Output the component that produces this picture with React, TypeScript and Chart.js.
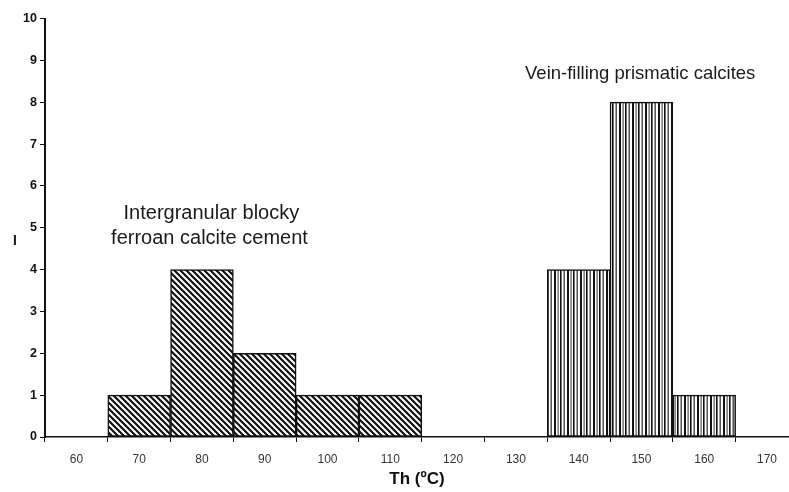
import React, { useEffect, useRef } from "react";
import { Chart, registerables } from "chart.js";

Chart.register(...registerables);

// Histogram bins (bin centres, °C) and counts
const tickLabels = [60, 70, 80, 90, 100, 110, 120, 130, 140, 150, 160, 170];
const cementBins = [70, 80, 90, 100, 110];
const cementCounts = [1, 4, 2, 1, 1];
const veinBins = [140, 150, 160];
const veinCounts = [4, 8, 1];
const yTicks = [0, 1, 2, 3, 4, 5, 6, 7, 8, 9, 10];

const notes = [
  { text: "Intergranular blocky", x: 81.5, y: 5.35, size: 20, bold: false },
  { text: "ferroan calcite cement", x: 81.2, y: 4.75, size: 20, bold: false },
  { text: "Vein-filling prismatic calcites", x: 149.8, y: 8.67, size: 18.5, bold: false },
  { text: "I", x: 50.2, y: 4.68, size: 14, bold: true },
];

function diagPattern(): CanvasPattern | string {
  const c = document.createElement("canvas");
  c.width = 6;
  c.height = 6;
  const g = c.getContext("2d");
  if (!g) return "#666";
  g.fillStyle = "#fff";
  g.fillRect(0, 0, 6, 6);
  g.strokeStyle = "#111";
  g.lineWidth = 2.2;
  g.beginPath();
  g.moveTo(-3, -3);
  g.lineTo(9, 9);
  g.moveTo(-3, 3);
  g.lineTo(3, 9);
  g.moveTo(3, -3);
  g.lineTo(9, 3);
  g.stroke();
  return g.createPattern(c, "repeat") || "#666";
}

function vertPattern(): CanvasPattern | string {
  const c = document.createElement("canvas");
  c.width = 13;
  c.height = 4;
  const g = c.getContext("2d");
  if (!g) return "#888";
  g.fillStyle = "#fff";
  g.fillRect(0, 0, 13, 4);
  g.fillStyle = "#111";
  g.fillRect(0, 0, 2, 4);
  g.fillStyle = "#555";
  g.fillRect(3.5, 0, 1.2, 4);
  g.fillStyle = "#111";
  g.fillRect(6, 0, 1.6, 4);
  g.fillStyle = "#444";
  g.fillRect(9.5, 0, 1.4, 4);
  return g.createPattern(c, "repeat") || "#888";
}

const notesPlugin = {
  id: "notes",
  afterDraw(chart: any) {
    const { ctx, scales } = chart;
    ctx.save();
    ctx.fillStyle = "#1a1a1a";
    ctx.textAlign = "center";
    ctx.textBaseline = "middle";
    for (const n of notes) {
      ctx.font = `${n.bold ? "bold " : ""}${n.size}px "Liberation Sans", Arial, sans-serif`;
      ctx.fillText(n.text, scales.x.getPixelForValue(n.x), scales.y.getPixelForValue(n.y));
    }
    ctx.restore();
  },
};

export default function App() {
  const ref = useRef<HTMLCanvasElement | null>(null);

  useEffect(() => {
    if (!ref.current) return;
    const chart = new Chart(ref.current, {
      type: "bar",
      data: {
        datasets: [
          {
            label: "Intergranular blocky ferroan calcite cement",
            data: cementBins.map((b, i) => ({ x: b, y: cementCounts[i] })),
            backgroundColor: diagPattern() as any,
            borderColor: "#111",
            borderWidth: 1.5,
            borderSkipped: false,
          },
          {
            label: "Vein-filling prismatic calcites",
            data: veinBins.map((b, i) => ({ x: b, y: veinCounts[i] })),
            backgroundColor: vertPattern() as any,
            borderColor: "#111",
            borderWidth: 1.5,
            borderSkipped: false,
          },
        ],
      },
      options: {
        animation: false,
        responsive: true,
        maintainAspectRatio: false,
        grouped: false,
        categoryPercentage: 1,
        barPercentage: 1,
        layout: { padding: { top: 8, right: 0, left: 0, bottom: 0 } },
        plugins: {
          legend: { display: false },
          tooltip: { enabled: false },
        },
        scales: {
          x: {
            type: "linear",
            min: 55,
            max: 173.5,
            offset: false,
            afterBuildTicks: (scale: any) => {
              scale.ticks = tickLabels.map((v) => ({ value: v }));
            },
            afterFit: (scale: any) => {
              scale.height = 55;
              scale.paddingRight = 0;
            },
            grid: {
              offset: true,
              drawOnChartArea: false,
              drawTicks: true,
              tickLength: 5,
              color: "#111",
              lineWidth: 1,
            },
            border: { display: true, color: "#111", width: 1.5 },
            ticks: {
              color: "#333",
              padding: 10,
              maxRotation: 0,
              autoSkip: false,
              font: { family: '"Liberation Sans", Arial, sans-serif', size: 12 },
              callback: (v: any) => String(v),
            },
            title: {
              display: true,
              text: "Th (ºC)",
              color: "#111",
              padding: { top: 0, bottom: 2 },
              font: { family: '"Liberation Sans", Arial, sans-serif', size: 17, weight: "bold" },
            },
          },
          y: {
            type: "linear",
            min: 0,
            max: 10,
            afterBuildTicks: (scale: any) => {
              scale.ticks = yTicks.map((v) => ({ value: v }));
            },
            afterFit: (scale: any) => {
              scale.width = 37;
            },
            grid: {
              drawOnChartArea: false,
              drawTicks: true,
              tickLength: 5,
              color: "#111",
              lineWidth: 1,
            },
            border: { display: true, color: "#111", width: 2 },
            ticks: {
              color: "#111",
              padding: 3,
              font: { family: '"Liberation Sans", Arial, sans-serif', size: 12.5, weight: "bold" },
            },
          },
        },
      } as any,
      plugins: [notesPlugin],
    });
    return () => chart.destroy();
  }, []);

  return (
    <div style={{ position: "fixed", left: 8, top: 8, width: 781, height: 484 }}>
      <canvas ref={ref} />
    </div>
  );
}
